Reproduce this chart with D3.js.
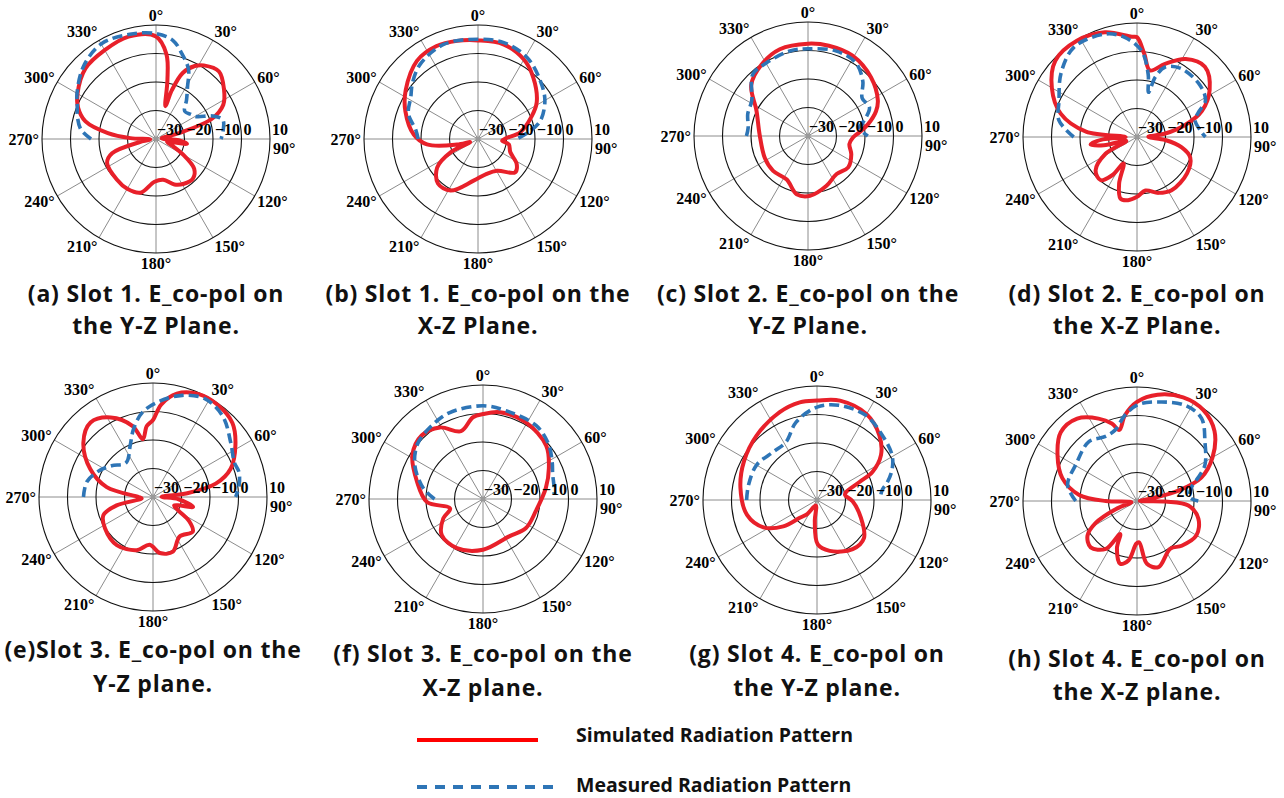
<!DOCTYPE html>
<html>
<head>
<meta charset="utf-8">
<script src="https://cdn.jsdelivr.net/npm/d3@7"></script>
<style>
body {margin:0; background:#fff;}
</style>
</head>
<body>
<svg id="chart" width="1284" height="798"></svg>
<script>
// radiation patterns, [angle deg, gain dB]
var simA = [[0,6],[7,0],[11,-9],[16,-18],[18,-12],[22,-5],[28,-1],[33,0.8],[43,2.4],[54,-0.5],[63,-3.5],[70,-9],[76,-22],[84,-28],[93,-22],[99,-19],[104,-26],[112,-24],[120,-19],[128,-13],[137,-11],[148,-11.5],[158,-12.8],[170,-15.5],[182,-15],[196,-10.4],[210,-9.8],[224,-10.2],[244,-10.9],[252,-13.8],[259,-24],[265,-28],[272,-21],[277,-13],[284,-4.5],[292,-0.5],[300,1.8],[315,5],[330,6],[345,7.2]];
var measA = [[270,-7.2],[277,-3.5],[286,-1.3],[293,0],[300,2],[315,6],[330,8.5],[346,7.9],[0,7],[10,5],[17,1.2],[25,-3],[31,-8.5],[38,-12.6],[46,-16],[55,-15],[61,-13.8],[68,-8.5],[74,-5.6],[85,-6.5],[90,-7.2]];

var simB = [[0,4.6],[15,4.4],[30,2.2],[42,-1],[58,-5.7],[67,-9.5],[81,-15],[88,-20],[94,-21.5],[100,-19],[112,-17.8],[123,-13.8],[132,-12.5],[149,-17],[166,-17.4],[186,-15.3],[208,-9.5],[222,-9],[235,-12.5],[244,-19.3],[248,-27],[255,-22.4],[264,-12],[274,-7.4],[291,-2.7],[304,0.6],[322,4.8],[336,5.7],[348,5.2]];
var measB = [[270,-9],[278,-8],[290,-4],[302,-2.2],[310,0.1],[322,3.1],[340,5.3],[0,5],[15,5],[31,3.4],[47,-0.1],[60,-2.9],[74,-7.3],[82,-12],[90,-16.4]];

var simC = [[0,2.4],[13,2.5],[29,2.2],[47,0.2],[63,-2.5],[70,-4.6],[79,-8.6],[86,-12],[92,-14.2],[101,-15.2],[113,-13.5],[128,-12.1],[143,-13.3],[160,-11.3],[178,-9],[191,-9.2],[206,-13],[225,-12.7],[243,-13],[272,-13],[296,-9.9],[312,-3.2],[327,-0.1],[342,2]];
var measC = [[270,-8.4],[278,-8.8],[290,-7.5],[302,-6.7],[318,-1],[330,-0.5],[348,0.5],[0,0.6],[18,1.4],[33,0.7],[45,-2.8],[55,-6.8],[65,-6.2],[74,-9.3],[81,-11.7],[90,-9]];

var simD = [[0,5],[5,-0.7],[11,-6.2],[21,-2.5],[32,2.3],[44,4.3],[57,0.4],[68,-5.4],[76,-12.6],[83,-20],[89,-26],[96,-20],[103,-13.9],[111,-10],[126,-8.3],[147,-7.7],[159,-9],[171,-11],[180,-9],[188,-7.6],[195,-7.6],[201,-12.5],[207,-19.6],[213,-14],[220,-10.2],[231,-11.3],[242,-17.5],[250,-26],[256,-18],[261,-13.5],[266,-18],[270,-26],[276,-12],[287,-2],[300,4.5],[313,9.2],[328,9.8],[343,8.4],[357,5.2]];
var measD = [[270,-7.8],[282,-2],[295,0.2],[310,4.8],[325,8.5],[343,7.8],[353,5.2],[3,0.3],[10,-7.5],[14.5,-13.8],[17,-8],[22,-3.5],[33,-1.4],[51,-1.4],[62,-2.8],[68,-6.7],[74,-8.8],[86,-7.2],[90,-6]];

var simE = [[0,-3],[5,2.5],[13,7.2],[24,9.5],[35,9.5],[47,8.1],[58,4.1],[70,-1],[78,-7.5],[84,-18.4],[89,-27],[95,-21],[104,-15.5],[112,-22],[118,-20],[124,-14.6],[131,-11.5],[146,-13.3],[160,-9.6],[173,-10.2],[184,-13.2],[197,-10.5],[217,-8.9],[237,-9.9],[250,-11.5],[257,-16.9],[263,-26],[270,-25],[282,-13.4],[294,-5.9],[308,1],[320,4.1],[332,1.6],[344,-4.1],[350,-9.4],[355,-5]];
var measE = [[270,-5.6],[283,-6.2],[297,-9.2],[307,-11.8],[322,-14.7],[336,-10.3],[344,-5.2],[353,0],[4,3.7],[16,7.1],[28,9],[41,7.4],[55,3.3],[67,1],[74,1.4],[83,0.4],[90,-1]];

var simF = [[0,-0.2],[11,1],[29,0.8],[50,-1],[65,-4.5],[80,-7.6],[103,-11],[124,-11.8],[145,-14],[180,-12.2],[208,-10.5],[229,-10.8],[244,-14.5],[254,-18],[267,-10.3],[285,-6],[302,-0.8],[316,1],[329,-0.7],[342,-5],[353,-1.1]];
var measF = [[270,-13],[280,-8.8],[296,-3.4],[310,0],[324,1.3],[339,2.5],[0,2.7],[15,2],[36,1.8],[50,0],[62,-2.5],[70,-4],[80,-4.7],[86,-5]];

var simG = [[0,4.9],[13,5.8],[30,4.8],[44,1.5],[55,-2.6],[63,-8.1],[67,-13.8],[75,-19.5],[80,-20],[92,-17.5],[112,-13.4],[129,-8.8],[144,-8.7],[166,-11.6],[179,-14.4],[186,-22.6],[192,-28],[215,-24],[224,-21.3],[232,-15],[243,-8.9],[258,-4.9],[279,-2.8],[298,-1],[317,1],[337,3.5],[350,4.8]];
var measG = [[270,-5.3],[282,-5.4],[300,-5.5],[318,-7.2],[332,-6.9],[345,-1.7],[0,2.6],[13,4.1],[30,4.3],[45,2.3],[59,0.7],[68,-1.6],[76,-4.6],[81,-6.8],[85,-7.5]];

var simH = [[0,4.8],[11,8],[24,9.8],[36,9.5],[48,6.6],[60,0.6],[70,-6],[76,-15],[80,-24.7],[87,-29],[91,-20],[95,-11.9],[106,-7.6],[120,-5.9],[135,-7.8],[145,-9.6],[162,-5.6],[171,-7.7],[177,-15.5],[181,-15],[188,-9],[195,-7.2],[203,-12],[207,-17],[213,-10],[225,-7],[235,-8.8],[242,-13.6],[249,-22],[257,-28],[265,-27],[270,-19],[276,-9.6],[287,-2.6],[300,2.2],[312,6],[324,5.7],[335,1.9],[342,-1.4],[346,-4.3],[352,0.4]];
var measH = [[270,-8.5],[283,-5],[301,-5],[321,-3.2],[334,-4.8],[343,-3.9],[352,0.4],[1,3.9],[14,5.8],[27,7.6],[38,6.8],[49,1.6],[62,-3],[69,-7],[76,-10.3],[86,-11.4],[90,-8.5]];

var angleTicks = [0,30,60,90,120,150,180,210,240,270,300,330];
var dbTicks = [-30,-20,-10,0,10];
var captions = [
  ["(a) Slot 1. E_co-pol on", "the Y-Z Plane."],
  ["(b) Slot 1. E_co-pol on the", "X-Z Plane."],
  ["(c) Slot 2. E_co-pol on the", "Y-Z Plane."],
  ["(d) Slot 2. E_co-pol on", "the X-Z Plane."],
  ["(e)Slot 3. E_co-pol on the", "Y-Z plane."],
  ["(f) Slot 3. E_co-pol on the", "X-Z plane."],
  ["(g) Slot 4. E_co-pol on", "the Y-Z plane."],
  ["(h) Slot 4. E_co-pol on", "the X-Z plane."]
];
var legendLabels = ["Simulated Radiation Pattern", "Measured Radiation Pattern"];

var simulated = [simA, simB, simC, simD, simE, simF, simG, simH];
var measured = [measA, measB, measC, measD, measE, measF, measG, measH];

// layout
var R = 114;
var centersX = [156, 478, 808, 1137, 153, 483, 817, 1137];
var centersY = [139, 139, 136, 137, 497, 499, 500, 501];
var capBase = [[302,334],[302,334],[302,334],[302,334],[658,692],[662,696],[662,696],[667,700]];

var red = "#e8202a", blue = "#2e75b6";
var serif = "'Liberation Serif', 'Times New Roman', serif";
var sans = "'Open Sans', Lato, sans-serif";

var svg = d3.select("#chart");

var rScale = d3.scaleLinear().domain([-30, 10]).range([0, R]).clamp(true);
var rad = d => d * Math.PI / 180;

var simLine = d3.lineRadial()
  .angle(d => rad(d[0]))
  .radius(d => rScale(d[1]))
  .curve(d3.curveCatmullRomClosed.alpha(0.5));

var measLine = d3.lineRadial()
  .angle(d => rad(d[0]))
  .radius(d => rScale(d[1]))
  .curve(d3.curveCatmullRom.alpha(0.5));

function side(d) {
  var s = Math.sin(rad(d));
  if (s > 0.1) return "start";
  if (s < -0.1) return "end";
  return "middle";
}

simulated.forEach(function(sim, i) {
  var g = svg.append("g").attr("transform", "translate(" + centersX[i] + "," + centersY[i] + ")");

  // spokes
  g.selectAll("line.spoke").data(angleTicks).enter().append("line")
    .attr("class", "spoke")
    .attr("x1", 0).attr("y1", 0)
    .attr("x2", d => R * Math.sin(rad(d)))
    .attr("y2", d => -R * Math.cos(rad(d)))
    .style("stroke", "#8c8c8c").style("stroke-width", 1);

  // rings
  g.selectAll("circle.ring").data(dbTicks.slice(1)).enter().append("circle")
    .attr("class", "ring")
    .attr("r", d => rScale(d))
    .style("fill", "none").style("stroke", "#111").style("stroke-width", 1.1);

  g.append("circle").attr("r", 2.5).style("fill", "#999");

  // curves
  g.append("path").datum(sim)
    .attr("d", simLine)
    .style("fill", "none").style("stroke", red).style("stroke-width", 4)
    .style("stroke-linejoin", "round");

  g.append("path").datum(measured[i])
    .attr("d", measLine)
    .style("fill", "none").style("stroke", blue).style("stroke-width", 3.6)
    .style("stroke-dasharray", "10,5");

  // dB labels along the 90 deg axis
  g.selectAll("text.db").data(dbTicks).enter().append("text")
    .attr("class", "db")
    .attr("x", d => rScale(d) + (d == -30 ? 1 : 2))
    .attr("y", -4)
    .text(d => d < 0 ? "\u2212" + Math.abs(d) : d)
    .style("font-family", serif).style("font-weight", "bold").style("font-size", "16px");

  // angle labels
  g.selectAll("text.ang").data(angleTicks).enter().append("text")
    .attr("class", "ang")
    .attr("x", d => (R + 3) * Math.sin(rad(d)))
    .attr("y", d => d == 90 ? 9 : -(R + 10) * Math.cos(rad(d)))
    .attr("text-anchor", side)
    .attr("dominant-baseline", "central")
    .text(d => d + "\u00b0")
    .style("font-family", serif).style("font-weight", "bold").style("font-size", "16px");

  // caption
  svg.selectAll(null).data(captions[i]).enter().append("text")
    .attr("x", centersX[i])
    .attr("y", (d, k) => capBase[i][k])
    .attr("text-anchor", "middle")
    .text(d => d)
    .style("font-family", sans).style("font-weight", "bold").style("font-size", "23px")
    .style("letter-spacing", "0.8px")
    .style("fill", "#111");
});

// legend
var legendY = [740, 787];
var legendBase = [742, 792];
svg.append("line").attr("x1", 417).attr("x2", 538).attr("y1", legendY[0]).attr("y2", legendY[0])
  .style("stroke", "#ff0000").style("stroke-width", 4);
svg.append("line").attr("x1", 417).attr("x2", 556).attr("y1", legendY[1]).attr("y2", legendY[1])
  .style("stroke", blue).style("stroke-width", 4).style("stroke-dasharray", "10,8");

svg.selectAll("text.leg").data(legendLabels).enter().append("text")
  .attr("class", "leg")
  .attr("x", 576)
  .attr("y", (d, i) => legendBase[i])
  .text(d => d)
  .style("font-family", sans).style("font-weight", "bold").style("font-size", "19.5px")
  .style("fill", "#111");
</script>
</body>
</html>
